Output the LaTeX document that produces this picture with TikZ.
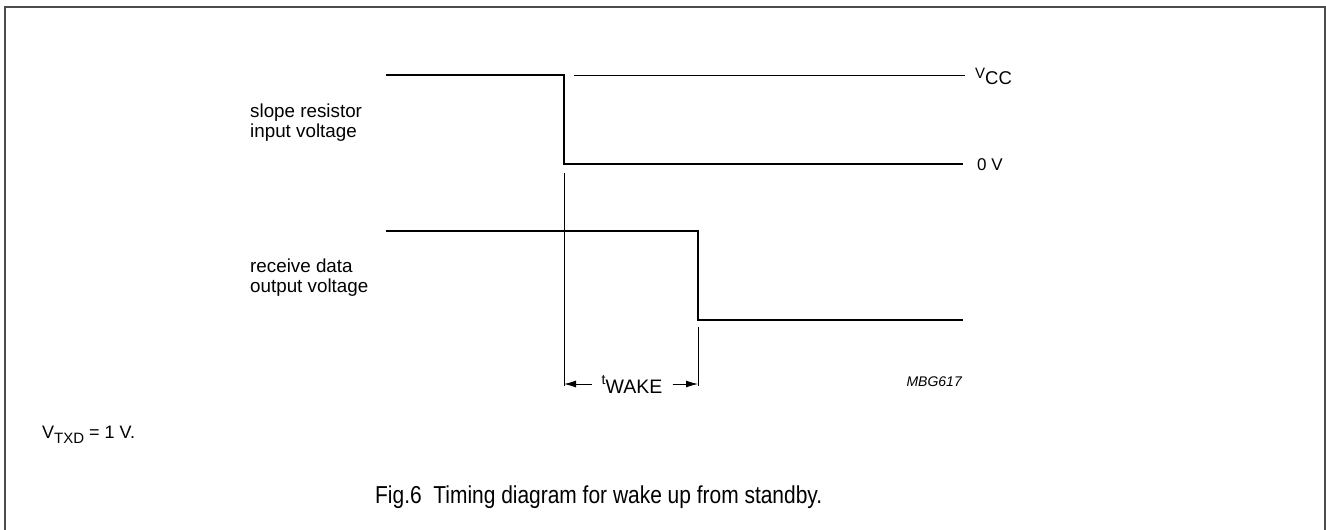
\documentclass[tikz,border=0pt]{standalone}
\usepackage{fontspec}
\setmainfont{Liberation Sans}
\usetikzlibrary{arrows.meta}

\begin{document}
\begin{tikzpicture}[x=1pt,y=-1pt]

  \definecolor{frmcol}{rgb}{0.3,0.3,0.3}

 \useasboundingbox (0,0) rectangle (1326,530);

 % corners of the frame, open at the bottom.
 \coordinate (f0) at (5,530);
 \coordinate (f1) at (5,7);
 \coordinate (f2) at (1325,7);
 \coordinate (f3) at (1325,530);

 % slope resistor input voltage
 \coordinate (a0) at (386,75);
 \coordinate (a1) at (564,75);
 \coordinate (a2) at (564,164);
 \coordinate (a3) at (963,164);
 \coordinate (vc0) at (574,75);
 \coordinate (vc1) at (965,75);

 % receive data output voltage
 \coordinate (b0) at (386,231);
 \coordinate (b1) at (698,231);
 \coordinate (b2) at (698,320);
 \coordinate (b3) at (963,320);

 % ends of the two extension lines
 \coordinate (t0) at (564,173);
 \coordinate (t1) at (564,386);
 \coordinate (u0) at (698,327);
 \coordinate (u1) at (698,386);

 \tikzset{
      frmstl/.style={line width=1.8pt,draw=frmcol},
      sigstl/.style={line width=2.6pt,line join=miter},
      thnstl/.style={line width=0.9pt},
      dimstl/.style={line width=0.9pt,-{Latex[length=12pt,width=7pt]}},
      lblstl/.style={anchor=base west,inner sep=0pt,align=left,
        font=\fontsize{18.8}{20}\selectfont},
    }

 \draw[frmstl] (f0) -- (f1) -- (f2) -- (f3);

 \draw[sigstl] (a0) -- (a1) -- (a2) -- (a3);
 \draw[thnstl] (vc0) -- (vc1);
 \draw[sigstl] (b0) -- (b1) -- (b2) -- (b3);

 \draw[thnstl] (t0) -- (t1);
 \draw[thnstl] (u0) -- (u1);

 \node[lblstl] (sra) at (250,117) {slope resistor};
 \node[lblstl] (srb) at (250,137) {input voltage};
 \node[lblstl] (rda) at (250,272) {receive data};
 \node[lblstl] (rdb) at (250,292) {output voltage};

 \node[anchor=west,inner sep=0pt] (vcc) at (975,76)
   {\raisebox{3pt}{\fontsize{15}{15}\selectfont V}\raisebox{-3pt}{\fontsize{18.5}{18}\selectfont CC}};
 \node[anchor=west,inner sep=0pt,font=\fontsize{17}{17}\selectfont] (zv) at (977,165) {0 V};

 \node[inner xsep=10pt,inner ysep=0pt] (twk) at (632,384)
   {\raisebox{5pt}{\fontsize{14}{14}\selectfont t}\raisebox{-4pt}{\fontsize{19.5}{19}\selectfont WAKE}};
 \draw[dimstl] (twk.west) -- (twk.west -| t1);
 \draw[dimstl] (twk.east) -- (twk.east -| u1);

 \node[anchor=east,inner sep=0pt,font=\fontsize{14}{14}\itshape] (mbg) at (962,382) {MBG617};

 \node[anchor=base west,inner sep=0pt,font=\fontsize{18}{18}\selectfont] (vtxd) at (42,438)
   {V\raisebox{-5pt}{\fontsize{15}{15}\selectfont TXD} = 1 V.};

 \node[anchor=base west,inner sep=0pt,xscale=0.855,font=\fontsize{24.5}{25}\selectfont] (cap) at (375,503)
   {Fig.6\ \ Timing diagram for wake up from standby.};
\end{tikzpicture}
\end{document}
